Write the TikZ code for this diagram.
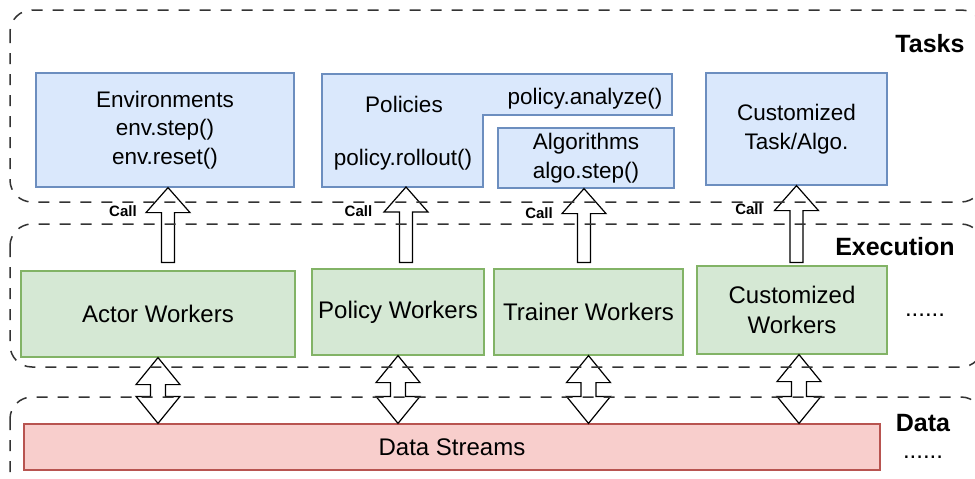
\documentclass[tikz,border=0pt]{standalone}
\usepackage{fontspec}
\setmainfont{Liberation Sans}
\usetikzlibrary{calc}
\definecolor{bluefill}{HTML}{DAE8FC}
\definecolor{blueline}{HTML}{6C8EBF}
\definecolor{greenfill}{HTML}{D5E8D4}
\definecolor{greenline}{HTML}{82B366}
\definecolor{redfill}{HTML}{F8CECC}
\definecolor{redline}{HTML}{B85450}
\definecolor{dashc}{HTML}{333333}
\tikzset{
 container/.style={draw=dashc, line width=1.5pt, dash pattern=on 11pt off 10pt, rounded corners=22pt},
 taskbox/.style={draw=blueline, fill=bluefill, line width=1.2pt, inner sep=0pt},
 workbox/.style={draw=greenline, fill=greenfill, line width=1.2pt, inner sep=0pt},
 databox/.style={draw=redline, fill=redfill, line width=1.2pt, inner sep=0pt},
 tasktext/.style={font=\fontsize{22.5}{28.5}\selectfont, align=center},
 worktext/.style={font=\fontsize{24}{30}\selectfont, align=center},
 plaintext/.style={font=\fontsize{22.5}{28.5}\selectfont, inner sep=0pt},
 layerlabel/.style={font=\fontsize{25}{30}\selectfont\bfseries, inner sep=0pt},
 calllabel/.style={font=\fontsize{15}{18}\selectfont\bfseries, inner sep=0pt},
 blockarrow/.style={draw=black, fill=white, line width=1.2pt, line join=miter},
}
\newcommand{\callarrow}[2]{%
 \draw[blockarrow] (#1) -- ($(#1)+(22,25)$) -- ($(#1)+(6.5,25)$) -- ($(#2)+(6.5,0)$)
   -- ($(#2)+(-6.5,0)$) -- ($(#1)+(-6.5,25)$) -- ($(#1)+(-22,25)$) -- cycle;}
\newcommand{\dataarrow}[2]{%
 \draw[blockarrow] (#1) -- ($(#1)+(22,27)$) -- ($(#1)+(7.5,27)$) -- ($(#2)+(7.5,-27)$)
   -- ($(#2)+(22,-27)$) -- (#2) -- ($(#2)+(-22,-27)$) -- ($(#2)+(-7.5,-27)$)
   -- ($(#1)+(-7.5,27)$) -- ($(#1)+(-22,27)$) -- cycle;}
\begin{document}
\begin{tikzpicture}[x=1pt,y=-1pt]
\useasboundingbox (0,0) rectangle (975,479);
\clip (0,0) rectangle (975,479);
\fill[white] (0,0) rectangle (975,479);

% Tasks layer
\node[taskbox, tasktext, minimum width=258pt, minimum height=114pt] (env) at (165,130)
  {Environments\\env.step()\\env.reset()};
\draw[taskbox] (322,74) -- (672,74) -- (672,115) -- (483,115) -- (483,187) -- (322,187) -- cycle;
\node[plaintext, anchor=base] (poltitle) at (404,112) {Policies};
\node[plaintext, anchor=base] (polroll) at (403,165) {policy.rollout()};
\node[plaintext, anchor=base] (polana) at (585,104) {policy.analyze()};
\coordinate (pol) at (406,187);
\node[taskbox, tasktext, minimum width=176pt, minimum height=60pt] (algo) at (586,158)
  {Algorithms\\algo.step()};
\node[taskbox, tasktext, minimum width=181pt, minimum height=112pt] (ctask) at (796.5,129)
  {Customized\\Task/Algo.};
\node[layerlabel] (tasks) at (930,44) {Tasks};

% Execution layer
\node[workbox, worktext, minimum width=274pt, minimum height=86pt] (actor) at (158,314) {Actor Workers};
\node[workbox, worktext, minimum width=172pt, minimum height=86pt] (polw) at (398,312) {Policy Workers};
\node[workbox, worktext, minimum width=189pt, minimum height=86pt] (trainw) at (588.5,312) {Trainer Workers};
\node[workbox, worktext, minimum width=190pt, minimum height=88pt] (custw) at (792,310) {Customized\\Workers};
\node[font=\fontsize{24}{30}\selectfont, inner sep=0pt, anchor=base] (dots1) at (925,316) {......};
\node[layerlabel] (exec) at (895,247) {Execution};

% Data layer
\node[databox, worktext, minimum width=856pt, minimum height=46pt] (data) at (452,447) {Data Streams};
\node[layerlabel] (datal) at (923,423.5) {Data};
\node[font=\fontsize{24}{30}\selectfont, inner sep=0pt, anchor=base] (dots2) at (923,458) {......};

% Call arrows
\coordinate (a1t) at ([xshift=3pt]env.south);
\coordinate (a1b) at ([yshift=8pt]a1t |- actor.north);
\coordinate (a2t) at (pol);
\coordinate (a2b) at ([yshift=6pt]a2t |- polw.north);
\coordinate (a3t) at ([xshift=-2pt]algo.south);
\coordinate (a3b) at ([yshift=6pt]a3t |- trainw.north);
\coordinate (a4t) at (ctask.south);
\coordinate (a4b) at ([yshift=3pt]a4t |- custw.north);
\callarrow{a1t}{a1b}
\callarrow{a2t}{a2b}
\callarrow{a3t}{a3b}
\callarrow{a4t}{a4b}
\node[calllabel] (call1) at (123,211.5) {Call};
\node[calllabel] (call2) at (358.5,211.5) {Call};
\node[calllabel] (call3) at (539,213) {Call};
\node[calllabel] (call4) at (749,209.5) {Call};

% Data arrows
\coordinate (d1b) at (actor.south |- data.north);
\coordinate (d2b) at (polw.south |- data.north);
\coordinate (d3b) at (trainw.south |- data.north);
\coordinate (d4b) at ([xshift=7pt]custw.south |- data.north);
\coordinate (d4t) at ([xshift=7pt]custw.south);
\dataarrow{actor.south}{d1b}
\dataarrow{polw.south}{d2b}
\dataarrow{trainw.south}{d3b}
\dataarrow{d4t}{d4b}

% Containers
\draw[container] (10,10) rectangle (983,202);
\draw[container] (10,224) rectangle (983,367);
\draw[container] (10,397) rectangle (983,497);
\end{tikzpicture}
\end{document}
